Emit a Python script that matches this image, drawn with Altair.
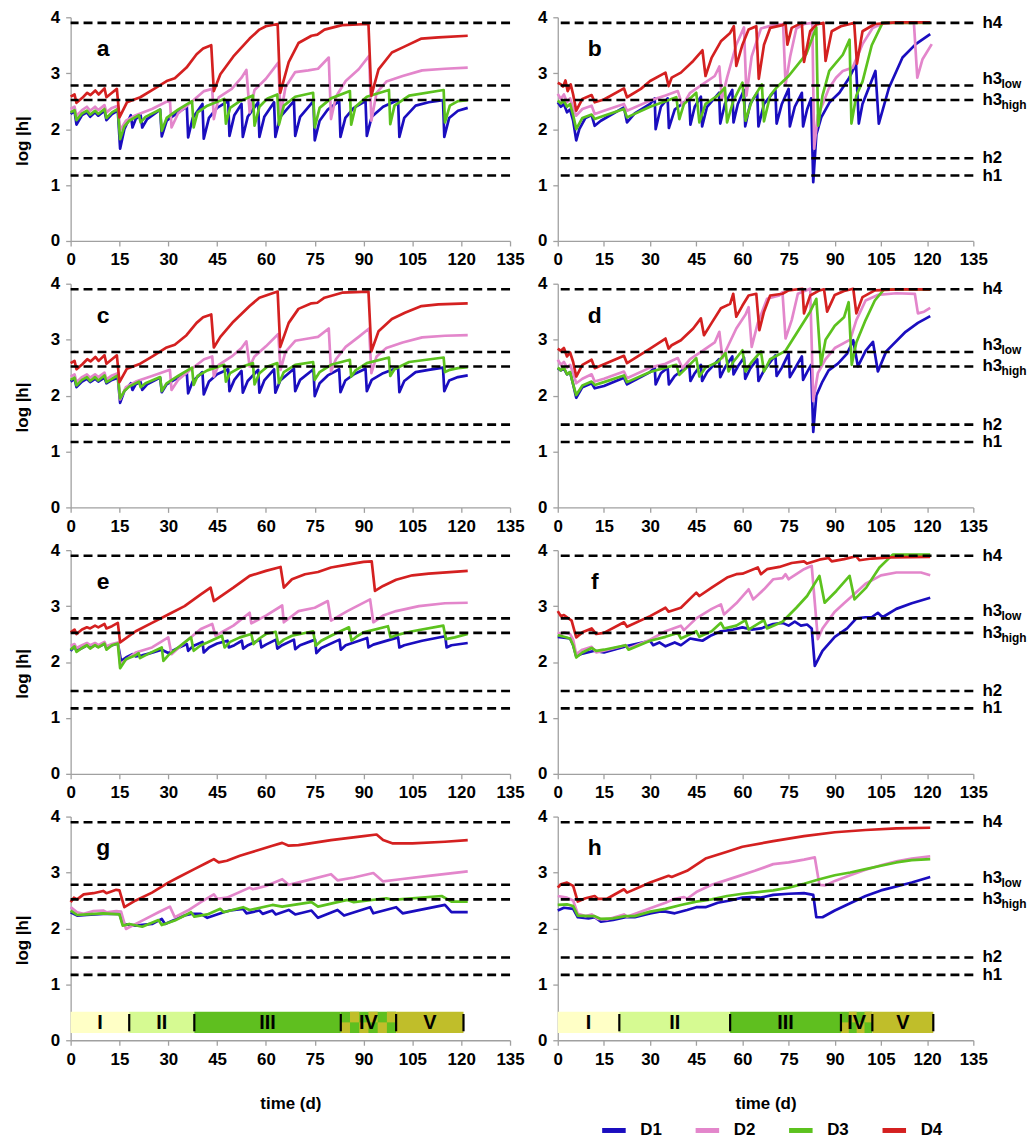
import altair as alt
import pandas as pd

# ---------------- data (time in days, log|h|) ----------------
a_D1 = [(0,2.27),(1.2,2.32),(1.8,2.08),(3.5,2.25),(5,2.3),(6,2.22),(7.5,2.3),(8.5,2.24),(10.4,2.33),(11,2.16),(12.7,2.27),(14.5,2.33),(15.2,1.65),(16.5,2.0),(18.5,2.25),(19,2.03),(20,2.18),(21.5,2.25),(22,2.03),(23.5,2.18),(27.5,2.35),(28,1.87),(29.5,2.15),(33,2.3),(35.7,2.4),(36.1,1.85),(37.5,2.2),(40.5,2.45),(40.9,1.83),(42.5,2.2),(45,2.38),(48.4,2.5),(48.8,1.88),(50.3,2.25),(52.5,2.45),(52.9,1.86),(54.4,2.22),(57.6,2.48),(58,1.86),(59.5,2.22),(62.5,2.48),(62.9,1.86),(64.4,2.22),(68.6,2.5),(69,1.88),(70.5,2.22),(74.6,2.5),(75,1.8),(76.5,2.15),(79,2.35),(82.5,2.5),(82.9,1.86),(84.4,2.2),(87,2.38),(90.6,2.5),(91,1.88),(92.5,2.22),(96,2.4),(100.6,2.52),(101,1.86),(102.5,2.2),(106,2.42),(110,2.48),(114.4,2.52),(114.8,1.86),(116.3,2.2),(119,2.33),(122,2.38)]
a_D2 = [(0,2.36),(1.2,2.4),(1.8,2.24),(3.5,2.34),(5,2.4),(6,2.33),(7.5,2.4),(8.5,2.34),(10.4,2.43),(11,2.3),(12.7,2.38),(14.5,2.42),(15.2,1.98),(17,2.15),(20,2.25),(25,2.36),(30.5,2.52),(31,2.03),(33,2.28),(37,2.48),(41,2.68),(43.5,2.72),(44,2.18),(45.5,2.57),(49.5,2.72),(52.5,2.92),(54,3.06),(55,2.3),(56.5,2.7),(60,2.9),(63.8,3.19),(64.5,2.24),(66,2.75),(69,3.02),(73,3.05),(76,3.08),(79.3,3.28),(80,2.18),(81.5,2.58),(84.5,2.86),(88.5,3.07),(91.7,3.31),(92.4,2.15),(94,2.65),(97,2.85),(102,2.95),(108,3.05),(115,3.08),(122,3.1)]
a_D3 = [(0,2.3),(1.2,2.34),(1.8,2.16),(3.5,2.28),(5,2.33),(6,2.26),(7.5,2.33),(8.5,2.27),(10.4,2.36),(11,2.2),(12.7,2.3),(14.5,2.36),(15.2,1.82),(16.5,2.05),(18,2.15),(21,2.25),(21.5,2.12),(23,2.22),(27.5,2.35),(28,1.97),(29.5,2.2),(33,2.35),(37.3,2.5),(37.8,2.03),(39,2.3),(42,2.42),(47.2,2.54),(47.7,2.1),(49,2.38),(52,2.5),(56,2.6),(56.5,2.06),(58,2.4),(60.5,2.55),(63.5,2.62),(64,2.08),(65.5,2.42),(69,2.58),(74.5,2.65),(75,2.03),(76.5,2.38),(80,2.55),(85.8,2.68),(86.2,2.08),(87.5,2.4),(91,2.58),(97.8,2.7),(98.2,2.09),(99.5,2.42),(104,2.6),(114.6,2.7),(115,2.12),(116.5,2.42),(119,2.5),(122,2.52)]
a_D4 = [(0,2.58),(1.2,2.62),(1.8,2.47),(3.6,2.56),(5.1,2.65),(6.1,2.61),(7.6,2.69),(8.6,2.62),(10.4,2.73),(11,2.57),(12.7,2.65),(14.2,2.72),(15,2.21),(17.3,2.48),(21.4,2.57),(25.4,2.71),(29.5,2.86),(32,2.91),(35.6,3.1),(38.7,3.34),(40.7,3.44),(43.2,3.5),(44,2.68),(46,2.98),(50,3.3),(55,3.62),(58,3.78),(60,3.84),(63.6,3.88),(64.4,2.65),(67,3.2),(70,3.54),(74,3.67),(75.8,3.69),(78,3.78),(83.4,3.86),(91.5,3.88),(92.4,2.6),(94.6,3.07),(98.7,3.37),(102.7,3.48),(107.8,3.62),(113,3.64),(122,3.67)]

b_D1 = [(0,2.48),(1,2.4),(2,2.45),(3,2.3),(4,2.35),(5,2.15),(6,1.8),(7,2.0),(9,2.2),(11,2.25),(12,2.06),(14,2.15),(21.5,2.39),(22.5,2.12),(25,2.28),(30,2.45),(31.5,2.55),(31.8,2.0),(33.5,2.4),(35.7,2.55),(36.1,2.02),(38,2.35),(42.7,2.55),(43.1,2.08),(44.5,2.4),(46.5,2.58),(46.9,2.05),(48.5,2.4),(52.4,2.65),(52.8,2.1),(54.3,2.45),(56.7,2.7),(57.1,2.12),(58.5,2.45),(60.5,2.7),(60.9,2.05),(62.5,2.45),(64.8,2.65),(65.2,2.05),(67,2.45),(70.7,2.7),(71.1,2.1),(72.8,2.45),(75,2.72),(75.4,2.05),(77,2.4),(79.3,2.65),(79.7,2.05),(81,2.35),(82.3,2.55),(83,1.05),(84,1.9),(85.6,2.21),(88.3,2.48),(91.5,2.65),(94.7,2.92),(96.9,3.16),(97.8,2.1),(99,2.45),(103.2,3.04),(104.3,2.1),(107.6,2.74),(112,3.28),(116.3,3.52),(121,3.7)]
b_D2 = [(0,2.63),(1,2.54),(2,2.62),(3,2.48),(4,2.55),(5,2.39),(6,2.24),(8,2.36),(11,2.42),(12,2.27),(15,2.33),(21.5,2.45),(22.5,2.33),(30,2.51),(35,2.6),(39,2.68),(40.5,2.42),(43,2.65),(47,2.8),(51,2.95),(52.5,3.12),(53.3,2.53),(55,2.92),(58,3.51),(60.5,3.82),(61.3,2.6),(63,3.3),(66,3.8),(70,3.86),(73.2,3.88),(74,2.8),(75.5,3.3),(77.5,3.8),(80,3.88),(82.7,3.9),(83.3,1.65),(84.5,2.25),(86.1,2.45),(88,2.72),(90.4,2.92),(92.6,3.04),(95.8,3.1),(99,3.52),(102.3,3.81),(106,3.9),(115.7,3.9),(116.8,2.92),(118.5,3.25),(121.5,3.52)]
b_D3 = [(0,2.51),(1,2.46),(2,2.5),(3,2.4),(4,2.45),(5,2.25),(6,2.0),(8,2.2),(11,2.26),(12,2.18),(15,2.24),(21.5,2.36),(22.5,2.21),(30,2.4),(35,2.5),(38.5,2.57),(39.5,2.18),(41,2.45),(45,2.65),(46,2.12),(48,2.45),(52,2.6),(54.3,2.74),(55,2.12),(57,2.5),(60,2.83),(61,2.15),(63,2.5),(66.3,2.8),(67,2.14),(69,2.6),(71,2.74),(75,2.95),(80.7,3.34),(84,3.82),(84.6,2.06),(86,2.6),(88.2,3.04),(92.6,3.33),(94.8,3.6),(95.4,2.1),(97,2.6),(99,2.85),(102,3.5),(105.5,3.9),(121,3.9)]
b_D4 = [(0,2.83),(1,2.8),(1.7,2.76),(2.5,2.87),(3.2,2.68),(4.2,2.8),(5,2.62),(6,2.33),(8,2.54),(11,2.61),(12,2.48),(15,2.53),(21.5,2.73),(22.5,2.57),(27,2.72),(30,2.86),(35,3.01),(36,2.77),(37,2.92),(40,3.01),(44,3.22),(47,3.41),(48,2.95),(50,3.28),(53,3.57),(56,3.72),(57.2,3.84),(58,3.13),(60,3.51),(62,3.78),(64.5,3.84),(65.3,2.9),(67,3.51),(69,3.81),(73,3.86),(74,3.9),(74.6,3.51),(76,3.81),(79.3,3.9),(80,3.2),(82,3.75),(84,3.87),(86.3,3.9),(87,3.22),(89,3.75),(92,3.84),(96.3,3.9),(97.2,3.17),(99,3.75),(103,3.88),(110,3.91),(121,3.91)]

c_D1 = [(0,2.25),(1.2,2.3),(1.8,2.15),(3.5,2.25),(5,2.3),(6,2.24),(7.5,2.3),(8.5,2.25),(10.4,2.32),(11,2.22),(12.7,2.28),(14.5,2.32),(15.2,1.87),(16.5,2.08),(18.5,2.22),(19,2.1),(20,2.2),(21.5,2.24),(22,2.1),(23.5,2.2),(27.5,2.32),(28,2.06),(29.5,2.2),(33,2.32),(35.7,2.4),(36.1,2.04),(37.5,2.25),(40.5,2.42),(40.9,2.02),(42.5,2.25),(45,2.38),(48.4,2.47),(48.8,2.08),(50.3,2.28),(52.5,2.44),(52.9,2.05),(54.4,2.26),(57.6,2.46),(58,2.05),(59.5,2.27),(62.5,2.47),(62.9,2.05),(64.4,2.27),(68.6,2.48),(69,2.08),(70.5,2.28),(74.6,2.47),(75,1.99),(76.5,2.22),(79,2.36),(82.5,2.47),(82.9,2.06),(84.4,2.27),(87,2.38),(90.6,2.48),(91,2.08),(92.5,2.28),(96,2.4),(100.6,2.5),(101,2.06),(102.5,2.26),(106,2.42),(110,2.46),(114.4,2.5),(114.8,2.08),(116.3,2.27),(119,2.33),(122,2.36)]
c_D2 = [(0,2.34),(1.2,2.38),(1.8,2.24),(3.5,2.33),(5,2.38),(6,2.32),(7.5,2.38),(8.5,2.33),(10.4,2.41),(11,2.29),(12.7,2.36),(14.5,2.4),(15.2,1.93),(17,2.15),(20,2.25),(25,2.35),(30.5,2.46),(31,2.1),(33,2.28),(37,2.47),(41,2.65),(43.5,2.7),(44,2.34),(45.5,2.55),(49.5,2.7),(52.5,2.85),(54,2.97),(55,2.52),(56.5,2.7),(60,2.88),(63.8,3.1),(64.5,2.46),(66,2.78),(69,2.98),(73,3.02),(76,3.05),(79.3,3.2),(80,2.43),(81.5,2.65),(84.5,2.87),(88.5,3.05),(91.7,3.2),(92.4,2.4),(94,2.7),(97,2.85),(102,2.95),(108,3.04),(115,3.07),(122,3.08)]
c_D3 = [(0,2.28),(1.2,2.32),(1.8,2.18),(3.5,2.28),(5,2.33),(6,2.26),(7.5,2.33),(8.5,2.27),(10.4,2.36),(11,2.24),(12.7,2.3),(14.5,2.36),(15.2,1.95),(16.5,2.08),(18,2.16),(21,2.25),(21.5,2.15),(23,2.22),(27.5,2.33),(28,2.08),(29.5,2.22),(33,2.35),(37.3,2.5),(37.8,2.19),(39,2.35),(42,2.45),(47.2,2.55),(47.7,2.25),(49,2.4),(52,2.5),(56,2.58),(56.5,2.2),(58,2.4),(60.5,2.52),(63.5,2.58),(64,2.22),(65.5,2.42),(69,2.55),(74.5,2.6),(75,2.28),(76.5,2.42),(80,2.55),(85.8,2.64),(86.2,2.34),(87.5,2.45),(91,2.58),(97.8,2.68),(98.2,2.35),(99.5,2.47),(104,2.6),(114.6,2.68),(115,2.42),(116.5,2.46),(119,2.49),(122,2.51)]
c_D4 = [(0,2.58),(1.2,2.62),(1.8,2.47),(3.6,2.56),(5.1,2.65),(6.1,2.61),(7.6,2.69),(8.6,2.62),(10.4,2.72),(11,2.57),(12.7,2.65),(14.2,2.72),(15,2.24),(17.3,2.48),(21.4,2.57),(25.4,2.71),(29.5,2.86),(32,2.91),(35.6,3.08),(38.7,3.3),(40.7,3.4),(43.2,3.45),(44,2.86),(46,3.05),(50,3.32),(55,3.6),(58,3.75),(60,3.79),(63.6,3.86),(64.4,2.87),(67,3.3),(70,3.55),(74,3.65),(75.8,3.66),(78,3.75),(83.4,3.84),(91.5,3.86),(92.4,2.79),(94.6,3.15),(98.7,3.37),(102.7,3.48),(107.8,3.6),(113,3.63),(122,3.65)]

d_D1 = [(0,2.49),(1,2.45),(2,2.48),(3,2.38),(4,2.42),(5,2.2),(6,1.96),(8,2.15),(11,2.22),(12,2.13),(15,2.17),(21.5,2.32),(22.5,2.2),(30,2.42),(31.5,2.5),(31.8,2.2),(33.5,2.4),(35.7,2.5),(36.1,2.2),(38,2.35),(42.7,2.55),(43.1,2.26),(44.5,2.4),(46.5,2.55),(46.9,2.26),(48.5,2.42),(52.4,2.65),(52.8,2.33),(54.3,2.5),(56.7,2.7),(57.1,2.38),(58.5,2.52),(60.5,2.68),(60.9,2.3),(62.5,2.48),(64.8,2.65),(65.2,2.26),(67,2.45),(70.7,2.72),(71.1,2.35),(72.8,2.5),(75,2.75),(75.4,2.33),(77,2.48),(79.3,2.7),(79.7,2.28),(81,2.42),(82.3,2.55),(83,1.35),(84,2.0),(86,2.25),(88,2.45),(91,2.57),(94,2.75),(96,2.99),(97.5,2.52),(100,2.8),(102.4,2.96),(104,2.43),(106.7,2.79),(113,3.14),(117,3.3),(121,3.42)]
d_D2 = [(0,2.64),(1,2.55),(2,2.6),(3,2.5),(4,2.55),(5,2.4),(6,2.22),(8,2.3),(11,2.38),(12,2.25),(15,2.3),(21.5,2.43),(22.5,2.31),(30,2.5),(35,2.57),(39,2.67),(40.5,2.49),(43,2.65),(47,2.8),(51,2.95),(52.5,3.14),(53.5,2.67),(55,2.85),(58,3.2),(61,3.45),(62,3.58),(63,2.87),(65,3.3),(68,3.73),(72,3.79),(73,3.85),(74,3.02),(76,3.35),(78,3.82),(82,3.91),(83,1.9),(84.5,2.4),(87,2.65),(90,2.85),(95,3.0),(97,3.35),(100,3.7),(104,3.8),(110,3.83),(116,3.82),(117,3.47),(119,3.5),(121,3.57)]
d_D3 = [(0,2.5),(1,2.45),(2,2.5),(3,2.38),(4,2.42),(5,2.2),(6,2.01),(8,2.18),(11,2.25),(12,2.19),(15,2.24),(21.5,2.36),(22.5,2.24),(30,2.42),(35,2.5),(38.5,2.55),(39.5,2.37),(41,2.45),(45,2.67),(46,2.34),(48,2.5),(52,2.6),(54.5,2.76),(55.5,2.43),(57,2.6),(60,2.81),(61,2.43),(63,2.6),(66,2.79),(67,2.43),(69,2.65),(74,2.8),(78,3.15),(82,3.5),(84,3.73),(85.5,2.55),(87,3.0),(90,3.25),(93,3.4),(94.5,3.67),(95.5,2.55),(97,2.95),(100,3.35),(103,3.7),(106,3.9),(121,3.9)]
d_D4 = [(0,2.84),(1,2.8),(2,2.85),(3,2.7),(4,2.77),(5,2.6),(6,2.34),(8,2.55),(11,2.64),(12,2.49),(21.5,2.71),(22.5,2.58),(30,2.84),(35,3.02),(36,2.84),(37,2.9),(40,2.99),(44,3.2),(46.5,3.38),(47.5,3.08),(50,3.3),(53,3.56),(56,3.64),(57,3.82),(58,3.41),(60,3.61),(62,3.79),(64.5,3.82),(65.5,3.17),(67,3.5),(69,3.79),(73,3.82),(75,3.88),(79.5,3.91),(80,3.47),(82,3.79),(85,3.88),(86.5,3.9),(87.5,3.5),(90,3.8),(93,3.87),(96,3.91),(97,3.47),(99,3.76),(103,3.88),(110,3.9),(121,3.9)]

e_D1 = [(0,2.2),(1.2,2.28),(1.8,2.2),(3.5,2.25),(5,2.3),(6,2.26),(7.5,2.3),(8.5,2.27),(10.4,2.32),(11,2.25),(12.7,2.3),(14.5,2.33),(15.5,2.02),(17,2.08),(19,2.14),(20,2.1),(22,2.12),(24,2.15),(28,2.22),(30,2.16),(33,2.25),(35.7,2.32),(36.1,2.2),(37.5,2.28),(40.5,2.36),(40.9,2.17),(42.5,2.26),(45,2.33),(48.2,2.38),(48.6,2.26),(50.3,2.3),(52.6,2.38),(53,2.24),(54.5,2.3),(58.2,2.4),(58.6,2.26),(60,2.31),(63.1,2.4),(63.5,2.24),(65,2.3),(68.6,2.4),(69,2.23),(70.5,2.3),(75.1,2.4),(75.5,2.16),(77,2.25),(82.6,2.4),(83,2.22),(84.5,2.3),(91.1,2.43),(91.5,2.26),(93,2.31),(100.6,2.44),(101,2.26),(102.5,2.3),(108,2.38),(115.1,2.46),(115.5,2.26),(117,2.3),(122,2.34)]
e_D2 = [(0,2.29),(1.2,2.32),(1.8,2.25),(3.5,2.3),(5,2.34),(6,2.3),(7.5,2.34),(8.5,2.3),(10.4,2.36),(11,2.28),(12.7,2.32),(14.5,2.35),(15.2,1.96),(20,2.17),(25,2.26),(30,2.44),(31,2.14),(35,2.35),(40,2.59),(43.5,2.68),(44.5,2.47),(50,2.65),(55,2.88),(55.5,2.69),(60,2.83),(65,3.01),(65.5,2.71),(70,2.91),(75,2.97),(79,3.09),(80,2.74),(85,2.91),(92,3.12),(93,2.71),(96,2.83),(100,2.91),(107,3.0),(115,3.05),(122,3.06)]
e_D3 = [(0,2.22),(1.2,2.28),(1.8,2.18),(3.5,2.25),(5,2.3),(6,2.24),(7.5,2.3),(8.5,2.26),(10.4,2.33),(11,2.22),(12.7,2.3),(14.5,2.33),(15.2,1.89),(17,2.05),(20,2.12),(20.9,2.16),(21.3,2.07),(24,2.15),(28,2.26),(28.5,2.02),(30,2.12),(33,2.26),(37,2.44),(37.8,2.2),(40,2.3),(42,2.35),(46.5,2.47),(47.3,2.26),(49,2.36),(52,2.44),(55.5,2.5),(56.2,2.32),(58,2.42),(60,2.5),(63,2.54),(63.8,2.32),(65.5,2.4),(68,2.47),(74.5,2.55),(75.3,2.29),(77,2.38),(80,2.47),(85.5,2.62),(86.3,2.38),(88,2.46),(90,2.53),(97.5,2.64),(98.3,2.44),(100,2.48),(105,2.55),(114.5,2.65),(115.3,2.41),(118,2.44),(122,2.5)]
e_D4 = [(0,2.53),(1.2,2.58),(1.8,2.5),(3.5,2.58),(5,2.62),(6,2.6),(7.5,2.65),(8.5,2.62),(10.4,2.68),(11,2.6),(12.7,2.64),(14.5,2.7),(15.2,2.35),(20,2.55),(25,2.7),(30,2.85),(35,3.0),(40,3.21),(43,3.33),(44,3.09),(50,3.33),(55,3.54),(60,3.63),(64.5,3.7),(65.5,3.33),(68,3.48),(72,3.57),(76,3.61),(80,3.69),(85,3.74),(90,3.79),(92.5,3.8),(93.5,3.27),(96,3.36),(100,3.47),(105,3.55),(110,3.58),(122,3.63)]

f_D1 = [(0,2.45),(4,2.42),(5,2.3),(6,2.1),(8,2.15),(12,2.2),(15,2.17),(22,2.28),(30,2.38),(31,2.3),(33,2.35),(35,2.28),(38,2.35),(40,2.3),(43,2.42),(45,2.4),(47,2.38),(50,2.48),(53,2.55),(57,2.58),(60,2.62),(63,2.58),(66,2.6),(70,2.68),(73,2.7),(75,2.65),(77,2.72),(79,2.65),(81,2.67),(82.5,2.6),(83.5,1.93),(86,2.2),(90,2.45),(94,2.6),(97,2.78),(100,2.8),(102,2.8),(104,2.88),(105.5,2.8),(110,2.95),(115,3.05),(121,3.15)]
f_D2 = [(0,2.53),(1,2.5),(2,2.53),(4,2.5),(5,2.4),(6,2.14),(8,2.22),(11,2.27),(12.5,2.17),(15,2.2),(22,2.3),(23,2.24),(30,2.4),(35,2.55),(40,2.65),(41,2.57),(45,2.78),(50,2.95),(53,3.03),(54,2.85),(58,3.05),(62,3.3),(63.5,3.12),(67,3.3),(70,3.48),(73,3.5),(74,3.57),(75,3.48),(80,3.66),(82.5,3.72),(84.5,2.41),(86,2.6),(90,2.9),(93,3.05),(96,3.2),(100,3.4),(105,3.55),(110,3.6),(118,3.6),(121,3.55)]
f_D3 = [(0,2.48),(2,2.45),(4,2.42),(5,2.3),(6,2.08),(8,2.17),(11,2.25),(12.5,2.2),(15,2.22),(22,2.3),(23,2.22),(30,2.38),(35,2.45),(39,2.52),(40,2.42),(45,2.55),(46,2.45),(50,2.55),(53,2.7),(54,2.6),(58,2.65),(61,2.75),(62,2.58),(65,2.68),(67,2.75),(68,2.6),(73,2.72),(77.5,2.97),(81,3.18),(85,3.54),(86.7,3.06),(90.5,3.27),(94.8,3.54),(96.4,3.12),(100.2,3.33),(104.5,3.69),(108.8,3.92),(121,3.92)]
f_D4 = [(0,2.91),(1,2.82),(2,2.84),(3,2.8),(4.5,2.74),(6,2.44),(8,2.53),(11,2.6),(12.5,2.5),(15,2.52),(21.5,2.71),(22.5,2.63),(30,2.82),(35,2.97),(36,2.9),(40,2.97),(45,3.24),(46,3.18),(50,3.33),(55,3.51),(58,3.57),(60,3.58),(65,3.69),(66,3.57),(68,3.66),(72,3.7),(76,3.77),(80,3.8),(81,3.76),(85,3.83),(88,3.86),(89,3.8),(93,3.84),(97,3.89),(98,3.82),(102,3.85),(108,3.87),(121,3.88)]

g_D1 = [(0,2.29),(2,2.23),(5,2.24),(10,2.26),(15,2.26),(16,2.08),(20,2.05),(25,2.08),(28,2.17),(29,2.08),(35,2.23),(37,2.26),(40,2.26),(42,2.19),(47,2.29),(49,2.32),(53,2.35),(54,2.27),(58,2.32),(59,2.26),(62,2.32),(63,2.25),(67,2.33),(69,2.25),(74,2.32),(76,2.19),(82,2.33),(84,2.23),(92,2.38),(93,2.27),(100,2.38),(102,2.27),(115,2.42),(117,2.29),(122,2.29)]
g_D2 = [(0,2.38),(2,2.29),(4,2.26),(7,2.31),(10,2.32),(11,2.29),(14,2.31),(15.5,2.3),(17,1.99),(18,2.02),(22,2.14),(27,2.29),(30.5,2.39),(32,2.2),(36,2.32),(40,2.47),(44,2.61),(45,2.53),(48,2.55),(55,2.73),(56,2.7),(60,2.76),(65,2.88),(67,2.78),(72,2.85),(80,2.97),(82,2.86),(87,2.91),(93,2.99),(96,2.84),(100,2.87),(110,2.94),(122,3.02)]
g_D3 = [(0,2.32),(2,2.24),(5,2.25),(10,2.27),(15,2.25),(16,2.05),(18,2.08),(22,2.03),(27,2.15),(28,2.06),(32,2.14),(37,2.29),(38,2.21),(42,2.25),(46,2.35),(47,2.29),(53,2.38),(55,2.33),(62,2.42),(65,2.39),(74,2.47),(76,2.39),(85,2.51),(87,2.47),(97,2.54),(99,2.51),(114,2.58),(117,2.48),(122,2.48)]
g_D4 = [(0,2.47),(1,2.55),(2,2.52),(4,2.61),(7,2.63),(10,2.67),(11,2.63),(14,2.69),(15,2.68),(16.5,2.38),(20,2.5),(25,2.64),(30,2.82),(33,2.91),(38,3.06),(42,3.18),(44,3.24),(45.5,3.18),(48,3.21),(52,3.3),(57,3.39),(62,3.48),(65,3.53),(67,3.48),(70,3.49),(80,3.58),(90,3.65),(94,3.68),(96,3.58),(99,3.52),(105,3.52),(115,3.55),(122,3.58)]

h_D1 = [(0,2.32),(2,2.37),(5,2.35),(6.5,2.2),(10,2.18),(12,2.2),(14,2.12),(18,2.15),(22,2.2),(25,2.2),(30,2.27),(33,2.3),(35,2.3),(38,2.27),(42,2.33),(45,2.38),(48,2.38),(52,2.46),(56,2.5),(60,2.55),(63,2.56),(66,2.55),(70,2.6),(75,2.62),(80,2.63),(83,2.6),(84,2.2),(86,2.2),(90,2.32),(95,2.45),(100,2.58),(105,2.68),(110,2.75),(115,2.82),(121,2.92)]
h_D2 = [(0,2.58),(3,2.55),(5,2.5),(6.5,2.26),(9,2.22),(11,2.25),(13,2.17),(16,2.16),(21.5,2.25),(22.5,2.21),(30,2.36),(35,2.46),(38,2.53),(41,2.56),(42,2.53),(45,2.65),(50,2.78),(54,2.85),(59,2.94),(64,3.03),(70,3.15),(75,3.18),(80,3.23),(83.5,3.27),(85,2.78),(87,2.77),(90,2.85),(95,2.95),(100,3.05),(105,3.13),(110,3.2),(115,3.25),(121,3.29)]
h_D3 = [(0,2.42),(3,2.43),(5,2.4),(6.5,2.23),(10,2.22),(12,2.22),(14,2.17),(18,2.18),(22,2.22),(25,2.22),(30,2.3),(35,2.35),(40,2.42),(45,2.48),(50,2.52),(55,2.58),(60,2.62),(65,2.65),(70,2.68),(75,2.73),(80,2.8),(85,2.88),(90,2.95),(95,3.0),(100,3.06),(105,3.12),(110,3.18),(115,3.22),(121,3.24)]
h_D4 = [(0,2.73),(1,2.79),(3,2.82),(5,2.76),(6.5,2.48),(9,2.54),(12,2.58),(13,2.53),(16,2.53),(21.5,2.7),(22.5,2.64),(30,2.82),(36,2.94),(37,2.92),(42,3.03),(48,3.25),(55,3.37),(60,3.46),(70,3.56),(80,3.65),(90,3.72),(100,3.76),(110,3.79),(121,3.8)]

series_names = ["D1", "D2", "D3", "D4"]
series_colors = ["#1A0DBF", "#E386CB", "#5CC21E", "#D42020"]

h_levels = [1.17, 1.48, 2.52, 2.78, 3.9]
h_main = ["h1", "h2", "h3", "h3", "h4"]
h_sub = ["", "", "high", "low", ""]

x_ticks = [0, 15, 30, 45, 60, 75, 90, 105, 120, 135]
y_ticks = [0, 1, 2, 3, 4]

stage_names = ["I", "II", "III", "IV", "V"]
g_stage_edges = [0, 18, 38, 83, 100, 120.7]
h_stage_edges = [0, 20, 56, 92, 102.2, 122]
stage_colors = ["#FFFFC6", "#D6FA92", "#5FBF1F", "#5FBF1F", "#C0BE2A"]
checker_color = "#C0BE2A"
g_checker_cols = 6
h_checker_cols = 4

panels = {
    "a": [a_D1, a_D2, a_D3, a_D4], "b": [b_D1, b_D2, b_D3, b_D4],
    "c": [c_D1, c_D2, c_D3, c_D4], "d": [d_D1, d_D2, d_D3, d_D4],
    "e": [e_D1, e_D2, e_D3, e_D4], "f": [f_D1, f_D2, f_D3, f_D4],
    "g": [g_D1, g_D2, g_D3, g_D4], "h": [h_D1, h_D2, h_D3, h_D4],
}
stage_edges = {"g": g_stage_edges, "h": h_stage_edges}
checker_cols = {"g": g_checker_cols, "h": h_checker_cols}

FONT = "Liberation Sans"
LEFT_W, RIGHT_W, PANEL_H = 442, 418, 225
BAR_LO, BAR_HI = 0.13, 0.51

xs = alt.Scale(domain=[0, 135], nice=False, zero=False)
ys = alt.Scale(domain=[0, 4], nice=False)

legend = alt.Legend(orient="none", legendX=532, legendY=1105, direction="horizontal",
                    title=None, symbolType="stroke", symbolStrokeWidth=5, symbolSize=560,
                    labelFont=FONT, labelFontSize=17, labelFontWeight="bold", labelColor="black",
                    labelOffset=12, columnPadding=23)
color_enc = alt.Color("series:N", scale=alt.Scale(domain=series_names, range=series_colors),
                      legend=legend)


def series_frame(lists):
    rows = []
    for name, pts in zip(series_names, lists):
        for i, (t, v) in enumerate(pts):
            rows.append({"series": name, "t": t, "v": v, "i": i})
    return pd.DataFrame(rows)


def panel(letter, col, row):
    w = LEFT_W if col == 0 else RIGHT_W
    xa = dict(values=x_ticks, grid=False, labelFlush=False)
    xa["title"] = "time (d)" if row == 3 else None
    ya = dict(values=y_ticks, grid=False, labelFlush=False)
    if col == 0:
        ya["title"] = "log |h|"
        ya["titleY"] = 124
        ya["titleAlign"] = "center"
    else:
        ya["title"] = None
    xax = alt.Axis(**xa)
    yax = alt.Axis(**ya)

    def X(field):
        return alt.X(field, scale=xs, axis=xax)

    def Y(field):
        return alt.Y(field, scale=ys, axis=yax)

    df = series_frame(panels[letter])
    thr = pd.DataFrame({"v": h_levels})

    lines = alt.Chart(df).mark_line(strokeWidth=2.7, strokeJoin="round").encode(
        x=X("t:Q"), y=Y("v:Q"), color=color_enc, order="i:Q")
    rules = alt.Chart(thr).mark_rule(color="black", strokeWidth=2.6, strokeDash=[9, 5]).encode(
        y=Y("v:Q"))
    layers = [lines, rules]

    if letter in stage_edges:
        ed = stage_edges[letter]
        n = len(stage_names)
        sdf = pd.DataFrame({"name": stage_names, "s": ed[:-1], "e": ed[1:],
                            "lo": [BAR_LO] * n, "hi": [BAR_HI] * n,
                            "tlo": [0.16] * n, "thi": [0.47] * n, "mid": [0.31] * n})
        bars = alt.Chart(sdf).mark_rect().encode(
            x=X("s:Q"), x2="e:Q", y=Y("lo:Q"), y2="hi:Q",
            fill=alt.Fill("name:N", scale=alt.Scale(domain=stage_names, range=stage_colors), legend=None),
        )
        # checkered pattern of stage IV
        s4, e4 = ed[3], ed[4]
        nc = checker_cols[letter]
        cw = (e4 - s4) / nc
        ch = (BAR_HI - BAR_LO) / 2
        cells = []
        for j in range(nc):
            for k in range(2):
                if (j + k) % 2 == 0:
                    cells.append({"s": s4 + j * cw, "e": s4 + (j + 1) * cw,
                                  "lo": BAR_LO + k * ch, "hi": BAR_LO + (k + 1) * ch})
        checker = alt.Chart(pd.DataFrame(cells)).mark_rect(color=checker_color).encode(
            x=X("s:Q"), x2="e:Q", y=Y("lo:Q"), y2="hi:Q")
        ticks = alt.Chart(sdf).mark_rule(color="black", strokeWidth=2.2).encode(
            x=X("e:Q"), y=Y("tlo:Q"), y2="thi:Q")
        slabels = alt.Chart(sdf).transform_calculate(m="(datum.s + datum.e) / 2").mark_text(
            font=FONT, fontSize=20, fontWeight="bold", color="black", baseline="middle").encode(
            x=X("m:Q"), y=Y("mid:Q"), text="name:N")
        layers += [bars, checker, ticks, slabels]

    lab = pd.DataFrame({"t": [10 if col == 0 else 12], "v": [3.43], "txt": [letter]})
    letter_mark = alt.Chart(lab).mark_text(font=FONT, fontSize=23, fontWeight="bold",
                                           color="black", baseline="middle").encode(
        x=X("t:Q"), y=Y("v:Q"), text="txt:N")
    layers.append(letter_mark)

    if col == 1:
        hdf = pd.DataFrame({"t": [138] * len(h_levels), "v": h_levels, "main": h_main, "sub": h_sub})
        base = alt.Chart(hdf)
        common = dict(font=FONT, fontWeight="bold", color="black", align="left", baseline="middle")
        m1 = base.transform_filter("datum.sub != 'low'").mark_text(fontSize=17, **common).encode(
            x=X("t:Q"), y=Y("v:Q"), text="main:N")
        m2 = base.transform_filter("datum.sub == 'low'").mark_text(fontSize=17, dy=-7, **common).encode(
            x=X("t:Q"), y=Y("v:Q"), text="main:N")
        s1 = base.transform_filter("datum.sub == 'high'").mark_text(fontSize=12, dx=19, dy=5, **common).encode(
            x=X("t:Q"), y=Y("v:Q"), text="sub:N")
        s2 = base.transform_filter("datum.sub == 'low'").mark_text(fontSize=12, dx=19, dy=-2, **common).encode(
            x=X("t:Q"), y=Y("v:Q"), text="sub:N")
        layers += [m1, m2, s1, s2]

    return alt.layer(*layers).properties(width=w, height=PANEL_H)


cells_all = []
letters = [["a", "b"], ["c", "d"], ["e", "f"], ["g", "h"]]
for r, pair in enumerate(letters):
    cells_all.append(panel(pair[0], 0, r))
    cells_all.append(panel(pair[1], 1, r))

chart = alt.concat(*cells_all, columns=2, spacing={"row": 43, "column": 48}, bounds="flush").properties(
    padding={"left": 5, "top": -3, "right": 0, "bottom": 0}
).configure_view(stroke=None).configure_axis(
    labelFont=FONT, labelFontSize=17, labelFontWeight="bold", labelColor="black",
    titleFont=FONT, titleFontSize=17, titleFontWeight="bold", titleColor="black",
    domainColor="#a0a0a0", tickColor="#a0a0a0", domainWidth=1.3, tickWidth=1.3,
    tickSize=5, labelPadding=6,
).configure_axisY(titlePadding=19).configure_axisX(titlePadding=29)

chart.save("out.html", embed_options={"renderer": "svg", "actions": False})
